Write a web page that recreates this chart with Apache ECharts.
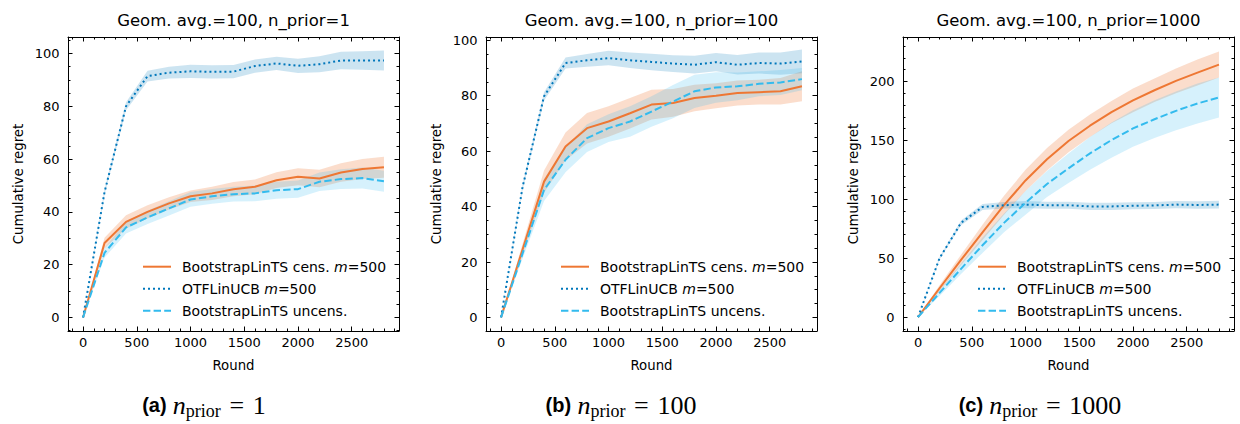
<!DOCTYPE html>
<html>
<head>
<meta charset="utf-8">
<script src="https://cdn.jsdelivr.net/npm/echarts@6/dist/echarts.min.js"></script>
<style>
html,body{margin:0;padding:0;background:#fff;}
#chart{width:1240px;height:424px;}
</style>
</head>
<body>
<div id="chart"></div>
<script>
// ---------------- DATA ----------------
const rounds = [0, 200, 400, 600, 800, 1000, 1200, 1400, 1600, 1800, 2000, 2200, 2400, 2600, 2800];

const panelTitles = ['Geom. avg.=100, n_prior=1', 'Geom. avg.=100, n_prior=100', 'Geom. avg.=100, n_prior=1000'];
const captionLetters = ['(a)', '(b)', '(c)'];
const captionValues = ['1', '100', '1000'];
const seriesNames = ['BootstrapLinTS cens. m=500', 'OTFLinUCB m=500', 'BootstrapLinTS uncens.'];
const xAxisName = 'Round';
const yAxisName = 'Cumulative regret';

// Panel (a) n_prior = 1
const p1Cens    = [0, 28.2, 36.2, 40.0, 43.2, 45.9, 47.0, 48.6, 49.5, 52.0, 53.3, 52.6, 54.9, 56.2, 56.9];
const p1CensErr = [0, 2.0, 2.5, 2.5, 2.3, 2.2, 2.5, 2.7, 2.8, 3.0, 3.2, 3.3, 3.5, 3.8, 4.0];
const p1Otf     = [0, 47.5, 80.0, 91.4, 92.7, 93.2, 93.0, 93.1, 95.2, 96.2, 95.3, 95.9, 97.3, 97.3, 97.3];
const p1OtfErr  = [0, 1.0, 1.5, 2.0, 2.2, 2.5, 2.5, 2.5, 2.5, 2.5, 2.7, 3.0, 3.3, 3.5, 3.8];
const p1Unc     = [0, 24.5, 34.1, 37.9, 41.3, 44.7, 45.9, 46.7, 47.0, 48.2, 48.6, 51.4, 52.4, 52.8, 51.6];
const p1UncErr  = [0, 1.8, 2.3, 2.5, 2.7, 2.8, 2.8, 2.8, 3.0, 3.2, 3.3, 3.5, 3.7, 4.0, 4.0];

// Panel (b) n_prior = 100
const p2Cens    = [0, 24.5, 49.0, 61.7, 68.3, 70.7, 73.7, 76.8, 77.4, 79.2, 80.0, 81.0, 81.3, 81.6, 83.4];
const p2CensErr = [0, 2.0, 4.0, 5.0, 5.5, 5.5, 5.5, 5.4, 5.0, 4.8, 4.5, 4.5, 4.5, 4.8, 5.4];
const p2Otf     = [0, 47.0, 79.8, 91.8, 92.8, 93.6, 92.8, 92.2, 91.6, 91.2, 92.1, 91.2, 91.8, 91.6, 92.4];
const p2OtfErr  = [0, 1.0, 1.5, 2.0, 2.3, 2.6, 2.8, 3.0, 3.0, 3.2, 3.3, 3.5, 3.8, 4.0, 4.3];
const p2Unc     = [0, 23.0, 46.0, 56.9, 64.7, 68.3, 70.7, 74.3, 77.9, 81.6, 83.0, 83.4, 84.3, 84.8, 86.0];
const p2UncErr  = [0, 1.8, 4.0, 4.5, 5.0, 5.0, 5.5, 5.5, 6.0, 6.0, 5.5, 5.0, 4.5, 4.5, 4.0];

// Panel (c) n_prior = 1000
const p3Cens    = [0, 24.5, 48.5, 72.0, 95.0, 116.0, 134.0, 149.5, 162.5, 174.0, 184.0, 192.6, 200.5, 207.6, 214.4];
const p3CensErr = [0, 2.5, 4.5, 6.5, 8.0, 9.0, 9.5, 9.5, 9.5, 9.5, 10.0, 10.0, 10.5, 11.0, 11.0];
const p3Otf     = [0, 50.0, 80.0, 93.5, 95.0, 95.5, 95.0, 95.0, 94.0, 94.0, 94.5, 94.8, 95.5, 95.2, 95.5];
const p3OtfErr  = [0, 1.0, 2.0, 2.5, 2.8, 3.0, 3.0, 3.0, 3.0, 3.0, 3.0, 3.0, 3.0, 3.2, 3.2];
const p3Unc     = [0, 20.5, 41.0, 61.0, 80.0, 97.0, 113.0, 126.3, 139.0, 150.3, 160.2, 168.0, 175.1, 181.4, 186.4];
const p3UncErr  = [0, 2.5, 4.5, 6.5, 8.0, 10.0, 11.0, 12.5, 14.0, 15.0, 15.5, 16.0, 16.5, 17.0, 17.0];

// axis ranges and tick steps
const xRange = [-140, 2940];
const xMajor = 500, xMinor = 100;
const yRanges = [[-5.1, 106.2], [-4.9, 101.2], [-11.8, 237.8]];
const yMajor = [20, 20, 50];
const yMinor = [5, 5, 10];

// ---------------- LAYOUT / STYLE ----------------
const panels = [
  {cens: p1Cens, censErr: p1CensErr, otf: p1Otf, otfErr: p1OtfErr, unc: p1Unc, uncErr: p1UncErr},
  {cens: p2Cens, censErr: p2CensErr, otf: p2Otf, otfErr: p2OtfErr, unc: p2Unc, uncErr: p2UncErr},
  {cens: p3Cens, censErr: p3CensErr, otf: p3Otf, otfErr: p3OtfErr, unc: p3Unc, uncErr: p3UncErr}
];
const gridLeft = [68, 486, 903];
const GRID_TOP = 37, GRID_W = 331, GRID_H = 294;
const captionX = [204, 621, 1040];
const FONT = 'DejaVu Sans';
const styles = {
  cens: {color: '#EE7733', type: 'solid', band: 'rgba(238,119,51,0.25)'},
  otf:  {color: '#0077BB', type: [2, 3], band: 'rgba(0,119,187,0.2)'},
  unc:  {color: '#33BBEE', type: [7.4, 3.2], band: 'rgba(51,187,238,0.2)'}
};
const keys = ['cens', 'otf', 'unc'];

const grids = [], xAxes = [], yAxes = [], series = [], legends = [], graphics = [];

function tickStyle(len) {
  return {show: true, inside: true, length: len, lineStyle: {color: '#000', width: 1}};
}
const plainNum = (v) => String(v);

panels.forEach((p, g) => {
  grids.push({left: gridLeft[g], top: GRID_TOP, width: GRID_W, height: GRID_H,
              containLabel: false, outerBoundsMode: 'none'});

  const xb = {type: 'value', gridIndex: g, min: xRange[0], max: xRange[1],
              splitLine: {show: false}, axisLabel: {show: false},
              axisLine: {show: false, onZero: false}, silent: true};
  xAxes.push(Object.assign({}, xb, {
    position: 'bottom', splitNumber: 6, minInterval: xMajor, maxInterval: xMajor,
    axisLine: {show: true, onZero: false, lineStyle: {color: '#000', width: 1}},
    axisTick: tickStyle(4.5),
    axisLabel: {show: true, margin: 5, showMinLabel: false, showMaxLabel: false,
                fontSize: 13, fontFamily: FONT, color: '#000', formatter: plainNum},
    name: xAxisName, nameLocation: 'middle', nameGap: 28,
    nameTextStyle: {fontSize: 13.3, fontFamily: FONT, color: '#000'}
  }));
  xAxes.push(Object.assign({}, xb, {position: 'bottom', splitNumber: 30,
    minInterval: xMinor, maxInterval: xMinor, axisTick: tickStyle(2.5)}));
  xAxes.push(Object.assign({}, xb, {position: 'top', splitNumber: 6,
    minInterval: xMajor, maxInterval: xMajor,
    axisLine: {show: true, onZero: false, lineStyle: {color: '#000', width: 1}},
    axisTick: tickStyle(4.5)}));
  xAxes.push(Object.assign({}, xb, {position: 'top', splitNumber: 30,
    minInterval: xMinor, maxInterval: xMinor, axisTick: tickStyle(2.5)}));

  const yr = yRanges[g];
  const yb = {type: 'value', gridIndex: g, min: yr[0], max: yr[1],
              splitLine: {show: false}, axisLabel: {show: false},
              axisLine: {show: false, onZero: false}, silent: true};
  const nMaj = Math.round((yr[1] - yr[0]) / yMajor[g]);
  const nMin = Math.round((yr[1] - yr[0]) / yMinor[g]);
  yAxes.push(Object.assign({}, yb, {
    position: 'left', splitNumber: nMaj, minInterval: yMajor[g], maxInterval: yMajor[g],
    axisLine: {show: true, onZero: false, lineStyle: {color: '#000', width: 1}},
    axisTick: tickStyle(4.5),
    axisLabel: {show: true, margin: 8.5, showMinLabel: false, showMaxLabel: false,
                fontSize: 13, fontFamily: FONT, color: '#000', formatter: plainNum},
    name: yAxisName, nameLocation: 'middle', nameGap: 43,
    nameTextStyle: {fontSize: 13.3, fontFamily: FONT, color: '#000'}
  }));
  yAxes.push(Object.assign({}, yb, {position: 'left', splitNumber: nMin,
    minInterval: yMinor[g], maxInterval: yMinor[g], axisTick: tickStyle(2.5)}));
  yAxes.push(Object.assign({}, yb, {position: 'right', splitNumber: nMaj,
    minInterval: yMajor[g], maxInterval: yMajor[g],
    axisLine: {show: true, onZero: false, lineStyle: {color: '#000', width: 1}},
    axisTick: tickStyle(4.5)}));
  yAxes.push(Object.assign({}, yb, {position: 'right', splitNumber: nMin,
    minInterval: yMinor[g], maxInterval: yMinor[g], axisTick: tickStyle(2.5)}));

  const xi = g * 4, yi = g * 4;
  // confidence bands: one polygon per band, vertices placed through the axes' scales
  keys.forEach((k) => {
    const m = p[k], e = p[k + 'Err'], st = styles[k];
    series.push({
      type: 'custom', name: 'band-' + g + '-' + k, xAxisIndex: xi, yAxisIndex: yi,
      silent: true, emphasis: {disabled: true},
      encode: {x: 0, y: [1, 2]},
      data: rounds.map((x, i) => [x, m[i] - e[i], m[i] + e[i]]),
      renderItem: function (params, api) {
        if (params.dataIndex !== 0) return null;
        const upper = [], lower = [];
        for (let i = 0; i < rounds.length; i++) {
          upper.push(api.coord([rounds[i], m[i] + e[i]]));
          lower.push(api.coord([rounds[i], m[i] - e[i]]));
        }
        return {type: 'polygon', shape: {points: upper.concat(lower.reverse())},
                style: {fill: st.band, stroke: null}};
      }
    });
  });
  // mean lines
  keys.forEach((k, j) => {
    const st = styles[k];
    series.push({
      type: 'line', name: seriesNames[j], xAxisIndex: xi, yAxisIndex: yi,
      symbol: 'none', silent: true, emphasis: {disabled: true},
      color: st.color,
      lineStyle: {color: st.color, width: 2, type: st.type},
      data: rounds.map((x, i) => [x, p[k][i]])
    });
  });

  legends.push({
    orient: 'vertical', left: gridLeft[g] + 74, top: 259.7, padding: 0,
    itemWidth: 28, itemHeight: 14, itemGap: 8, selectedMode: false,
    data: seriesNames,
    itemStyle: {color: 'rgba(0,0,0,0)', borderWidth: 0, opacity: 0},
    formatter: function (name) {
      const idx = name.indexOf(' m=');
      if (idx >= 0) {
        return '{t|' + name.slice(0, idx + 1) + '}{i|m}{t|' + name.slice(idx + 2) + '}';
      }
      return '{t|' + name + '}';
    },
    textStyle: {
      fontSize: 14, fontFamily: FONT, color: '#000', padding: [0, 0, 0, 6],
      rich: {
        t: {fontSize: 14, fontFamily: FONT, color: '#000'},
        i: {fontSize: 14, fontFamily: FONT, fontStyle: 'italic', color: '#000'}
      }
    }
  });

  graphics.push({
    type: 'text', x: gridLeft[g] + GRID_W / 2, y: 20, silent: true,
    style: {text: panelTitles[g], fontSize: 16.5, fontFamily: FONT, fill: '#000',
            align: 'center', verticalAlign: 'middle', textAlign: 'center', textVerticalAlign: 'middle'}
  });
  graphics.push({
    type: 'text', x: captionX[g], y: 405, silent: true,
    style: {
      text: '{b|' + captionLetters[g] + '} {n|n}{s|prior}{r|\u2004=\u2004' + captionValues[g] + '}',
      fontSize: 25, fontFamily: 'Liberation Serif', fill: '#000',
      align: 'center', verticalAlign: 'middle', textAlign: 'center', textVerticalAlign: 'middle',
      rich: {
        b: {fontFamily: 'Liberation Sans', fontWeight: 'bold', fontSize: 20, fill: '#000', color: '#000'},
        n: {fontFamily: 'Liberation Serif', fontStyle: 'italic', fontSize: 26, fill: '#000', color: '#000'},
        s: {fontFamily: 'Liberation Serif', fontSize: 18, padding: [12, 0, 0, 0], fill: '#000', color: '#000'},
        r: {fontFamily: 'Liberation Serif', fontSize: 26, fill: '#000', color: '#000'}
      }
    }
  });
});

const chart = echarts.init(document.getElementById('chart'), null, {renderer: 'svg', width: 1240, height: 424});
chart.setOption({
  animation: false,
  backgroundColor: '#fff',
  grid: grids,
  xAxis: xAxes,
  yAxis: yAxes,
  legend: legends,
  series: series,
  graphic: graphics
});
</script>
</body>
</html>
